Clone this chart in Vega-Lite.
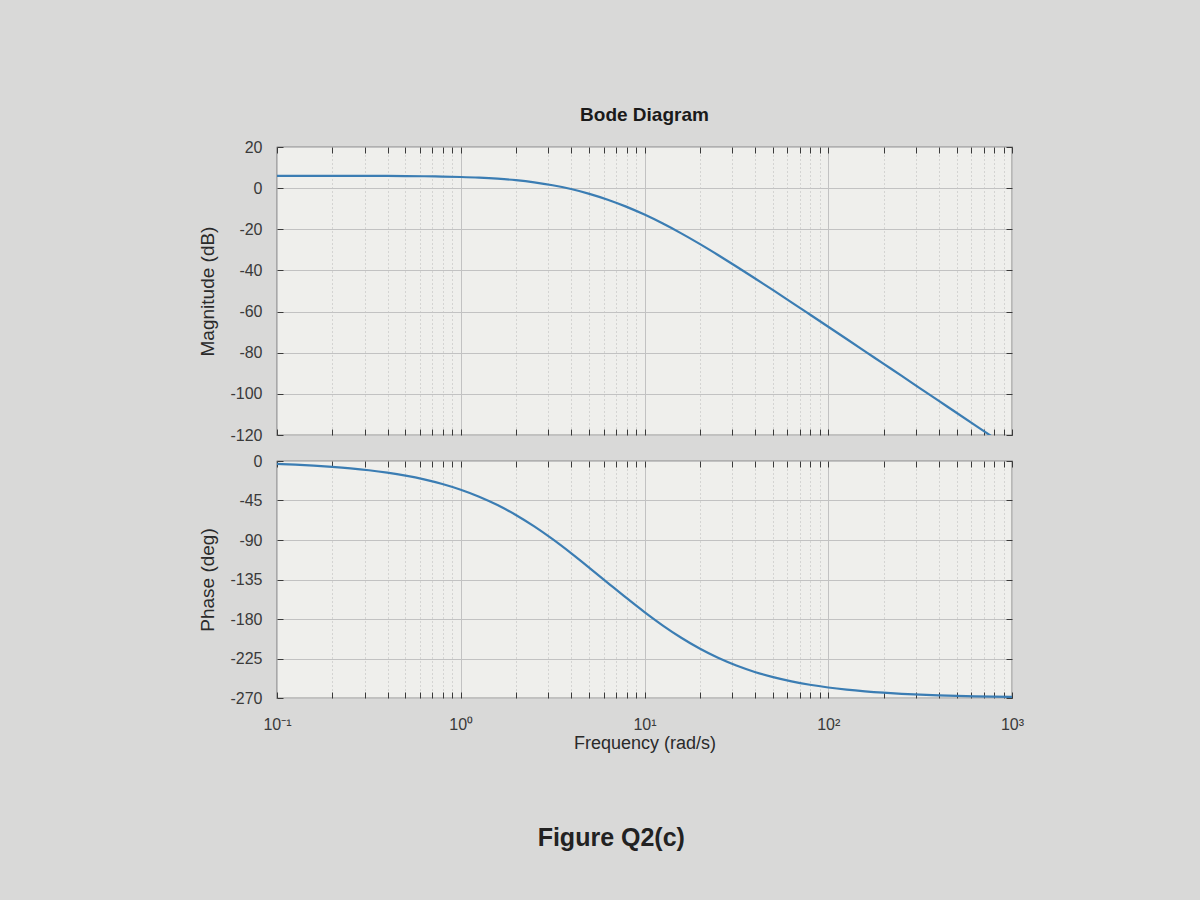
{
  "$schema": "https://vega.github.io/schema/vega-lite/v6.json",
  "background": "#d9d9d8",
  "padding": {"left": 198, "top": 105, "right": 190, "bottom": 58},
  "config": {
    "font": "Liberation Sans",
    "view": {"fill": "#efefec", "stroke": "#3a3a3a", "strokeWidth": 1.2},
    "axis": {
      "labelFont": "Liberation Sans",
      "titleFont": "Liberation Sans",
      "labelColor": "#3a3a3a",
      "titleColor": "#2a2a2a",
      "domain": false,
      "gridColor": "#c2c2c2",
      "gridOpacity": 1,
      "tickColor": "#3a3a3a",
      "tickWidth": 1
    }
  },
  "title": {"text": "Figure Q2(c)", "orient": "bottom", "anchor": "middle", "fontSize": 25, "fontWeight": "bold", "color": "#222222", "offset": 73},
  "datasets": {
    "bode": [
      {"w": 0.1, "mag": 6.01, "phase": -3.34},
      {"w": 0.1259, "mag": 6.01, "phase": -4.21},
      {"w": 0.1585, "mag": 6.0, "phase": -5.29},
      {"w": 0.1995, "mag": 5.99, "phase": -6.66},
      {"w": 0.2512, "mag": 5.98, "phase": -8.38},
      {"w": 0.3162, "mag": 5.96, "phase": -10.54},
      {"w": 0.3981, "mag": 5.92, "phase": -13.26},
      {"w": 0.5012, "mag": 5.86, "phase": -16.65},
      {"w": 0.631, "mag": 5.77, "phase": -20.89},
      {"w": 0.7943, "mag": 5.63, "phase": -26.16},
      {"w": 1, "mag": 5.41, "phase": -32.66},
      {"w": 1.259, "mag": 5.08, "phase": -40.61},
      {"w": 1.585, "mag": 4.58, "phase": -50.17},
      {"w": 1.995, "mag": 3.86, "phase": -61.46},
      {"w": 2.512, "mag": 2.83, "phase": -74.48},
      {"w": 3.162, "mag": 1.42, "phase": -89.07},
      {"w": 3.981, "mag": -0.43, "phase": -104.92},
      {"w": 5.012, "mag": -2.76, "phase": -121.64},
      {"w": 6.31, "mag": -5.62, "phase": -138.75},
      {"w": 7.943, "mag": -8.99, "phase": -155.75},
      {"w": 10, "mag": -12.87, "phase": -172.14},
      {"w": 12.59, "mag": -17.23, "phase": -187.49},
      {"w": 15.85, "mag": -21.99, "phase": -201.41},
      {"w": 19.95, "mag": -27.1, "phase": -213.69},
      {"w": 25.12, "mag": -32.49, "phase": -224.22},
      {"w": 31.62, "mag": -38.07, "phase": -233.06},
      {"w": 39.81, "mag": -43.79, "phase": -240.35},
      {"w": 50.12, "mag": -49.61, "phase": -246.28},
      {"w": 63.1, "mag": -55.49, "phase": -251.08},
      {"w": 79.43, "mag": -61.42, "phase": -254.93},
      {"w": 100, "mag": -67.37, "phase": -258.01},
      {"w": 125.9, "mag": -73.34, "phase": -260.46},
      {"w": 158.5, "mag": -79.32, "phase": -262.42},
      {"w": 199.5, "mag": -85.31, "phase": -263.98},
      {"w": 251.2, "mag": -91.3, "phase": -265.21},
      {"w": 316.2, "mag": -97.3, "phase": -266.2},
      {"w": 398.1, "mag": -103.3, "phase": -266.98},
      {"w": 501.2, "mag": -109.29, "phase": -267.6},
      {"w": 631, "mag": -115.29, "phase": -268.09},
      {"w": 794.3, "mag": -121.29, "phase": -268.49},
      {"w": 1000, "mag": -127.29, "phase": -268.8}
    ]
  },
  "bounds": "flush",
  "spacing": 26,
  "vconcat": [
    {
      "width": 735,
      "height": 288,
      "title": {"text": "Bode Diagram", "fontSize": 19, "fontWeight": "bold", "frame": "group", "anchor": "middle", "offset": 14, "color": "#1a1a1a"},
      "data": {"name": "bode"},
      "layer": [
        {
          "mark": {"type": "line", "clip": true, "color": "#3b7db3", "strokeWidth": 2.2, "interpolate": "monotone"},
          "encoding": {
            "x": {
              "field": "w", "type": "quantitative",
              "scale": {"type": "log", "domain": [0.1, 1000], "nice": false},
              "axis": {
                "orient": "bottom",
                "values": [0.1,0.2,0.3,0.4,0.5,0.6,0.7,0.8,0.9,1,2,3,4,5,6,7,8,9,10,20,30,40,50,60,70,80,90,100,200,300,400,500,600,700,800,900,1000],
                "labels": false,
                "title": null,
                "tickSize": -6,
                "grid": true,
                "gridDash": {"condition": {"test": "indexof([0.1,1,10,100,1000], datum.value) < 0", "value": [1, 3]}, "value": []},
                "gridColor": {"condition": {"test": "indexof([0.1,1,10,100,1000], datum.value) < 0", "value": "#b9b9b9"}, "value": "#c2c2c2"}
              }
            },
            "y": {
              "field": "mag", "type": "quantitative",
              "scale": {"domain": [-120, 20], "nice": false},
              "axis": {
                "orient": "left",
                "values": [-120,-100,-80,-60,-40,-20,0,20],
                "labelExpr": "datum.value + ''",
                "labelFontSize": 16,
                "labelPadding": 21,
                "tickSize": -6,
                "grid": true,
                "title": "Magnitude (dB)",
                "titleFontSize": 19,
                "titleFontWeight": "normal",
                "titlePadding": 12
              }
            }
          }
        },
        {
          "mark": {"type": "line", "opacity": 0},
          "encoding": {
            "x": {
              "field": "w", "type": "quantitative",
              "scale": {"type": "log", "domain": [0.1, 1000], "nice": false},
              "axis": {
                "orient": "top",
                "values": [0.1,0.2,0.3,0.4,0.5,0.6,0.7,0.8,0.9,1,2,3,4,5,6,7,8,9,10,20,30,40,50,60,70,80,90,100,200,300,400,500,600,700,800,900,1000],
                "labels": false, "title": null, "tickSize": -6, "grid": false
              }
            },
            "y": {
              "field": "mag", "type": "quantitative",
              "scale": {"domain": [-120, 20], "nice": false},
              "axis": {"orient": "right", "values": [-120,-100,-80,-60,-40,-20,0,20], "labels": false, "title": null, "tickSize": -6, "grid": false}
            }
          }
        }
      ],
      "resolve": {"axis": {"x": "independent", "y": "independent"}}
    },
    {
      "width": 735,
      "height": 237,
      "data": {"name": "bode"},
      "layer": [
        {
          "mark": {"type": "line", "clip": true, "color": "#3b7db3", "strokeWidth": 2.2, "interpolate": "monotone"},
          "encoding": {
            "x": {
              "field": "w", "type": "quantitative",
              "scale": {"type": "log", "domain": [0.1, 1000], "nice": false},
              "axis": {
                "orient": "bottom",
                "values": [0.1,0.2,0.3,0.4,0.5,0.6,0.7,0.8,0.9,1,2,3,4,5,6,7,8,9,10,20,30,40,50,60,70,80,90,100,200,300,400,500,600,700,800,900,1000],
                "labelExpr": "datum.value == 0.1 ? '10⁻¹' : datum.value == 1 ? '10⁰' : datum.value == 10 ? '10¹' : datum.value == 100 ? '10²' : datum.value == 1000 ? '10³' : ''",
                "labelFontSize": 16,
                "labelPadding": 24,
                "labelFlush": false,
                "labelOverlap": false,
                "tickSize": -6,
                "grid": true,
                "gridDash": {"condition": {"test": "indexof([0.1,1,10,100,1000], datum.value) < 0", "value": [1, 3]}, "value": []},
                "gridColor": {"condition": {"test": "indexof([0.1,1,10,100,1000], datum.value) < 0", "value": "#b9b9b9"}, "value": "#c2c2c2"},
                "title": "Frequency  (rad/s)",
                "titleFontSize": 18,
                "titleFontWeight": "normal",
                "titlePadding": 2
              }
            },
            "y": {
              "field": "phase", "type": "quantitative",
              "scale": {"domain": [-270, 0], "nice": false},
              "axis": {
                "orient": "left",
                "values": [-270,-225,-180,-135,-90,-45,0],
                "labelExpr": "datum.value + ''",
                "labelFontSize": 16,
                "labelPadding": 21,
                "tickSize": -6,
                "grid": true,
                "title": "Phase (deg)",
                "titleFontSize": 19,
                "titleFontWeight": "normal",
                "titlePadding": 12
              }
            }
          }
        },
        {
          "mark": {"type": "line", "opacity": 0},
          "encoding": {
            "x": {
              "field": "w", "type": "quantitative",
              "scale": {"type": "log", "domain": [0.1, 1000], "nice": false},
              "axis": {
                "orient": "top",
                "values": [0.1,0.2,0.3,0.4,0.5,0.6,0.7,0.8,0.9,1,2,3,4,5,6,7,8,9,10,20,30,40,50,60,70,80,90,100,200,300,400,500,600,700,800,900,1000],
                "labels": false, "title": null, "tickSize": -6, "grid": false
              }
            },
            "y": {
              "field": "phase", "type": "quantitative",
              "scale": {"domain": [-270, 0], "nice": false},
              "axis": {"orient": "right", "values": [-270,-225,-180,-135,-90,-45,0], "labels": false, "title": null, "tickSize": -6, "grid": false}
            }
          }
        }
      ],
      "resolve": {"axis": {"x": "independent", "y": "independent"}}
    }
  ]
}
